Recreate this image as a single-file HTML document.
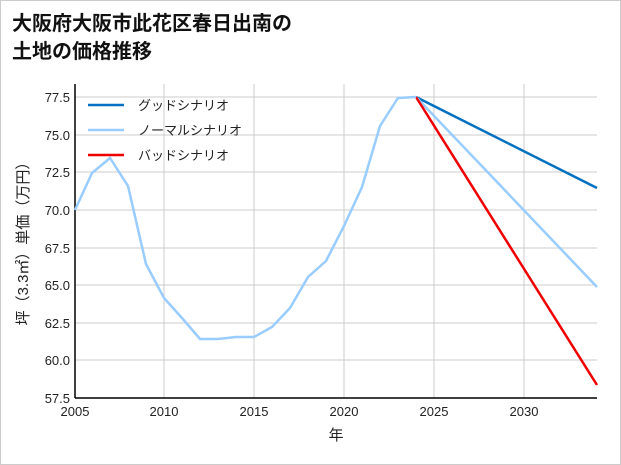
<!DOCTYPE html>
<html><head><meta charset="utf-8"><style>
body{margin:0;width:621px;height:465px;background:#fff;overflow:hidden}
.f{position:absolute;left:0;top:0;width:619px;height:463px;border:1px solid #ccc}
</style></head><body><div class="f"></div>
<svg width="621" height="465" style="position:absolute;left:0;top:0" font-family="Liberation Sans, Noto Sans CJK JP, sans-serif">
<text x="12" y="30" font-size="20" font-weight="bold" fill="#111">大阪府大阪市此花区春日出南の</text>
<text x="12" y="58" font-size="20" font-weight="bold" fill="#111">土地の価格推移</text>
<g stroke="#ccc" stroke-width="1">
<line x1="164" y1="84" x2="164" y2="398"/><line x1="254" y1="84" x2="254" y2="398"/><line x1="344" y1="84" x2="344" y2="398"/><line x1="434" y1="84" x2="434" y2="398"/><line x1="524" y1="84" x2="524" y2="398"/>
<line x1="75" y1="97" x2="597" y2="97"/><line x1="75" y1="135" x2="597" y2="135"/><line x1="75" y1="172" x2="597" y2="172"/><line x1="75" y1="210" x2="597" y2="210"/><line x1="75" y1="248" x2="597" y2="248"/><line x1="75" y1="285" x2="597" y2="285"/><line x1="75" y1="323" x2="597" y2="323"/><line x1="75" y1="360" x2="597" y2="360"/>
</g>
<line x1="75" y1="84" x2="75" y2="398" stroke="#000" stroke-width="1.5"/>
<line x1="75" y1="398" x2="597" y2="398" stroke="#000" stroke-width="1.5"/>
<g font-size="13" fill="#222" text-anchor="end">
<text x="70" y="102">77.5</text><text x="70" y="140">75.0</text><text x="70" y="177">72.5</text><text x="70" y="215">70.0</text><text x="70" y="253">67.5</text><text x="70" y="290">65.0</text><text x="70" y="328">62.5</text><text x="70" y="365">60.0</text><text x="70" y="403">57.5</text>
</g>
<g font-size="13" fill="#222" text-anchor="middle">
<text x="75" y="416">2005</text><text x="164" y="416">2010</text><text x="254" y="416">2015</text><text x="344" y="416">2020</text><text x="434" y="416">2025</text><text x="524" y="416">2030</text>
<text x="336" y="440" font-size="15">年</text>
</g>
<text transform="translate(28,240) rotate(-90)" font-size="15" fill="#222" text-anchor="middle">坪（3.3㎡）単価（万円）</text>
<polyline fill="none" stroke="#0070c0" stroke-width="2.5" points="416,97 597,188"/>
<polyline fill="none" stroke="#99ccff" stroke-width="2.5" points="416,97 597,287"/>
<polyline fill="none" stroke="#ee0000" stroke-width="2.5" points="416,97 597,385"/>
<polyline fill="none" stroke="#99ccff" stroke-width="2.5" points="75,210 92,173 110,158 128,186 146,264 164,298 182,318 200,339 218,339 236,337 254,337 272,327 290,308 308,277 326,261 344,226 362,187 380,126 398,98 416,97"/>
<line x1="88" y1="105" x2="124" y2="105" stroke="#0070c0" stroke-width="2.5"/>
<line x1="88" y1="130" x2="124" y2="130" stroke="#99ccff" stroke-width="2.5"/>
<line x1="88" y1="155" x2="124" y2="155" stroke="#ee0000" stroke-width="2.5"/>
<g font-size="13" fill="#222"><text x="138" y="110">グッドシナリオ</text><text x="138" y="135">ノーマルシナリオ</text><text x="138" y="160">バッドシナリオ</text></g>
</svg></body></html>
